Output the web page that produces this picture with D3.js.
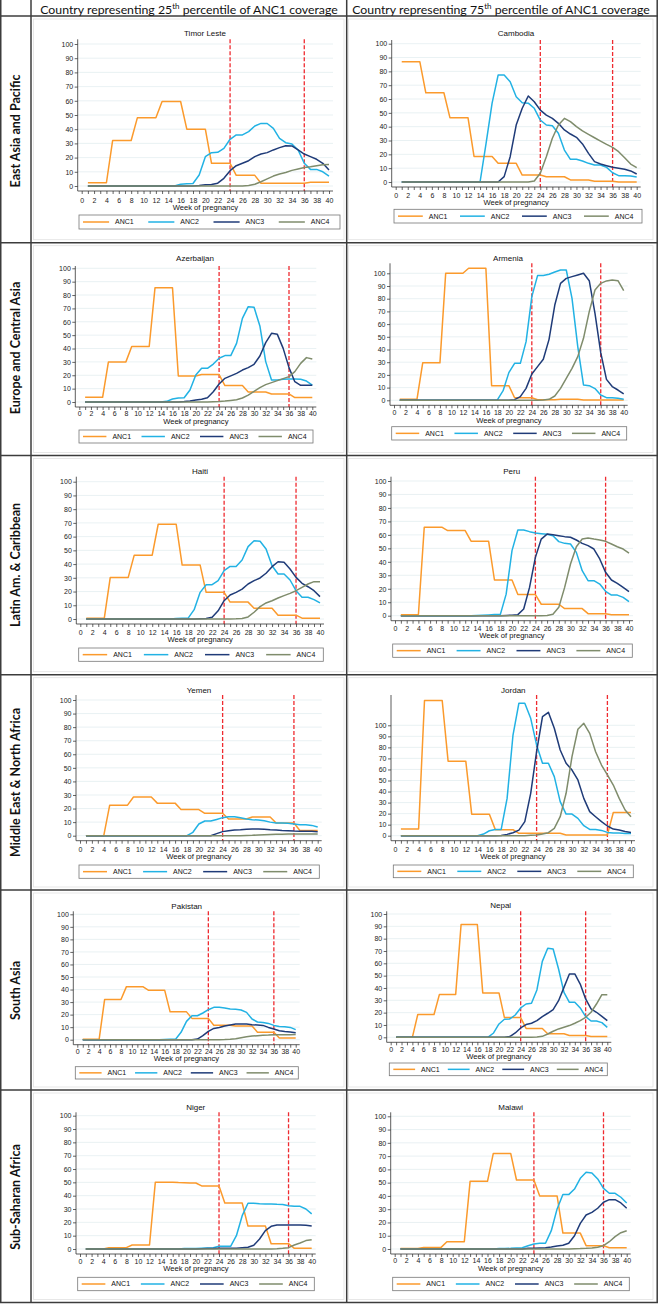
<!DOCTYPE html>
<html><head><meta charset="utf-8">
<script src="https://cdn.jsdelivr.net/npm/d3@7"></script>
<style>body{margin:0;background:#fff}svg{display:block}</style>
</head><body><svg id="c" width="659" height="1304"></svg>
<script>
// ---------------- DATA ----------------
const weeks = d3.range(1, 41);
const xTickValues = d3.range(0, 41);
const yTicks = [0, 10, 20, 30, 40, 50, 60, 70, 80, 90, 100];
const seriesNames = ["ANC1", "ANC2", "ANC3", "ANC4"];
const refWeeks = [24, 36];
const regions = ["East Asia and Pacific", "Europe and Central Asia", "Latin Am. & Caribbean", "Middle East & North Africa", "South Asia", "Sub-Saharan Africa"];
const headerPercentiles = ["25", "75"];
const countries = ["Timor Leste", "Cambodia", "Azerbaijan", "Armenia", "Haiti", "Peru", "Yemen", "Jordan", "Pakistan", "Nepal", "Niger", "Malawi"];

const anc1 = [
 [2.3,2.3,2.3,2.3,32,32,32,32,48,48,48,48,59.5,59.5,59.5,59.5,40,40,40,40,16,16,16,16,7.5,7.5,7.5,7.5,2,2,2,2,2,2,2,2,2.7,2.7,2.7,2.7],
 [87,87,87,87,64.5,64.5,64.5,64.5,46.5,46.5,46.5,46.5,18.5,18.5,18.5,18.5,13.5,13.5,13.5,13.5,5,5,5,5,3.8,3.8,3.8,3.8,1.5,1.5,1.5,1.5,0.5,0.5,0.5,0.5,0,0,0,0],
 [3.5,3.5,3.5,3.5,30,30,30,30,41.5,41.5,41.5,41.5,85.5,85.5,85.5,85.5,19.5,19.5,19.5,19.5,20.5,20.5,20.5,20.5,12.3,12.3,12.3,12.3,7.5,7.5,7.5,7.5,6,6,6,6,3.3,3.3,3.3,3.3],
 [0.8,0.8,0.8,0.8,29.5,29.5,29.5,29.5,100,100,100,100,104,104,104,104,11.5,11.5,11.5,11.5,2,2,2,2,0.5,0.5,0.5,0.5,0.8,0.8,0.8,0.8,0.3,0.3,0.3,0.3,0.3,0.3,0.3,0.3],
 [0.5,0.5,0.5,0.5,30.3,30.3,30.3,30.3,46.5,46.5,46.5,46.5,69,69,69,69,39.3,39.3,39.3,39.3,19.4,19.4,19.4,19.4,12.3,12.3,12.3,12.3,7.8,7.8,7.8,7.8,2.8,2.8,2.8,2.8,0.6,0.6,0.6,0.6],
 [0.7,0.7,0.7,0.7,65.7,65.7,65.7,65.7,63.2,63.2,63.2,63.2,55.3,55.3,55.3,55.3,26.5,26.5,26.5,26.5,15.7,15.7,15.7,15.7,8.5,8.5,8.5,8.5,5.3,5.3,5.3,5.3,1.5,1.5,1.5,1.5,0.7,0.7,0.7,0.7],
 [0,0,0,0,22.5,22.5,22.5,22.5,28.5,28.5,28.5,28.5,24,24,24,24,19.3,19.3,19.3,19.3,16.5,16.5,16.5,16.5,12.3,12.3,12.3,12.3,13.8,13.8,13.8,13.8,9.3,9.3,9.3,9.3,3.8,3.8,3.8,3.8],
 [6,6,6,6,122.5,122.5,122.5,122.5,67.5,67.5,67.5,67.5,19.5,19.5,19.5,19.5,5.5,5.5,5.5,5.5,2.2,2.2,2.2,2.2,2.2,2.2,2.2,2.2,0.7,0.7,0.7,0.7,0.7,0.7,0.7,0.7,21,21,21,21],
 [0.3,0.3,0.3,0.3,32,32,32,32,42.3,42.3,42.3,42.3,39.5,39.5,39.5,39.5,22.2,22.2,22.2,22.2,17,17,17,17,11.5,11.5,11.5,11.5,11,11,11,11,6,6,6,6,1.3,1.3,1.3,1.3],
 [0,0,0,0,18.5,18.5,18.5,18.5,34.8,34.8,34.8,34.8,91.5,91.5,91.5,91.5,36,36,36,36,16,16,16,16,7.2,7.2,7.2,7.2,2.9,2.9,2.9,2.9,1.5,1.5,1.5,1.5,0.7,0.7,0.7,0.7],
 [0,0,0,0,1,1,1,1,3,3,3,3,50,50,50,50,49.8,49.7,49.6,49.5,47.3,47.3,47.3,47.3,34.5,34.5,34.5,34.5,17.2,17.2,17.2,17.2,4,4,4,4,0.5,0.5,0.5,0.5],
 [0.3,0.3,0.3,0.3,1.2,1.2,1.2,1.2,5.5,5.5,5.5,5.5,51,51,51,51,72,72,72,72,52,52,52,52,40,40,40,40,12,12,12,12,2.5,2.5,2.5,2.5,1,1,1,1]
];
const anc2 = [
 [0,0,0,0,0,0,0,0,0,0,0,0,0,0,0,1.2,1.5,1.8,7.7,20.6,23.5,23.7,26.5,32.9,36,36,38.3,42.3,44.1,44,40.6,33.6,30.5,29.6,25.4,16,11.7,11.7,10,7],
 [0,0,0,0,0,0,0,0,0,0,0,0,0,0,28,57,77.3,77.3,72.5,61.7,57.3,57,53.3,44.8,41.2,40.7,35.2,23.1,16.4,16.4,15.2,13.5,12.3,12.3,10.6,6.7,4.6,4.6,4.3,3.6],
 [0,0,0,0,0,0,0,0,0,0,0,0,0,0,0.5,2.2,3,3.2,9,20.2,25.2,25.2,28.4,32.7,34.7,34.7,43.9,62.6,71.3,70.8,56.9,30.2,16.5,16.5,17,17.2,17.2,17,15.7,12.7],
 [0,0,0,0,0,0,0,0,0,0,0,0,0,0,0,0,0,0.3,7.6,21.8,29.1,29.1,46.2,81.6,98.2,98.2,99.2,101,102.6,102.6,80.3,42.3,12.1,11.5,9.2,4.2,2.1,2.1,1.6,0.8],
 [0,0,0,0,0,0,0,0,0,0,0,0,0,0,0,0.3,0.5,0.6,6.8,19.4,25,25,27.9,35.2,38.3,38.3,43,52.7,57,56.6,51,38.8,32.8,32.8,28.4,20.6,15.8,15.8,14.1,11.7],
 [0,0,0,0,0,0,0,0,0,0,0,0,0,0.2,0.4,0.6,0.8,0.8,16,48.3,63.6,63.6,62.4,61.4,60.9,60.4,59.4,55,53.7,53.2,47,33.4,26,26,23.5,18.1,15.3,15.3,13.6,10.4],
 [0,0,0,0,0,0,0,0,0,0,0,0,0,0,0,0,0,0,2.5,8.6,10.8,10.8,12,13.3,14,14,13.3,12.3,11.8,11.5,11,10,9.3,9.3,9.1,8.6,8.1,8.1,7.6,6.4],
 [0,0,0,0,0,0,0,0,0,0,0,0,0,0,1.5,4.5,5.7,5.7,33.8,91.2,120,120,106.3,82.2,65.6,65.6,53.5,30.8,19.6,19.6,15.7,9.1,5.7,5.7,4.8,3,2.4,2.4,2.1,2.1],
 [0,0,0,0,0,0,0,0,0,0,0,0,0,0,0,0.2,0.3,0.3,5.9,14.6,19.1,19.1,21.3,23.9,25.8,25.8,25.3,24.5,24.2,23.7,21.8,16.5,14.1,13.8,13,11.4,10.6,10.4,9.8,8],
 [0,0,0,0,0,0,0,0,0,0,0,0,0,0,0,0,0,0.2,3.5,10.8,14.6,14.9,18.1,23.8,27,27.6,38.4,61.6,72.2,71.6,55.4,36.5,28.4,28.4,23.8,16.8,13.2,13.2,11.9,8.1],
 [0,0,0,0,0,0,0,0,0,0,0,0,0,0,0,0,0,0.3,0.3,0.4,0.6,0.8,1,2,2,2,10,25,34.3,34.3,34,33.8,33.8,33.5,33.3,32.5,32,32,30,26.3],
 [0,0,0,0,0,0,0,0,0,0,0,0,0,0,0,0,0,0.3,0.4,0.5,0.8,1,2.5,3.8,4.3,4.3,13.8,30.2,41,41,45.2,53.3,57.8,57.3,52.8,45.7,42,42,39,34.7]
];
const anc3 = [
 [0,0,0,0,0,0,0,0,0,0,0,0,0,0,0,0,0,0,0.3,0.8,1,2,5.4,10.8,14.3,16,17.8,20.7,22.5,23.5,25.4,27,28.4,28.2,25.4,22.5,20.7,18.8,16,11.3],
 [0,0,0,0,0,0,0,0,0,0,0,0,0,0,0,0,0,3.9,18.3,41.2,53.3,62.2,58,52,48.4,46,42.4,37.6,34.7,32.3,27.5,20.7,14.7,13,11.8,10.6,9.9,9.2,8,5.8],
 [0,0,0,0,0,0,0,0,0,0,0,0,0,0,0,0,0,0.3,0.8,1.5,2,3.2,7.7,13.5,17.7,19.5,21.4,23.9,25.7,28.2,34.4,44.4,51.4,50.6,40.1,25.7,15.2,12.5,12.5,12.5],
 [0,0,0,0,0,0,0,0,0,0,0,0,0,0,0,0,0,0,0,0,0.5,2.9,9.4,20.7,26.5,32.3,48,75,92.1,96,97.4,98.7,100,94.2,68.5,37.5,16.5,10.8,8.1,5],
 [0,0,0,0,0,0,0,0,0,0,0,0,0,0,0,0,0,0,0,0.2,0.3,1.2,6,13.3,17.5,19.4,21.8,25.5,27.9,29.9,33.3,38.1,41.7,41.3,36.4,30.3,26,23.5,20.6,16.3],
 [0,0,0,0,0,0,0,0,0,0,0,0,0,0,0,0,0,0,0.2,0.4,0.8,5,21,43.3,56.9,60.6,60.1,59.4,58.7,58.2,56.2,53.7,52,49.5,42.1,32.2,26.5,24,21,17.8],
 [0,0,0,0,0,0,0,0,0,0,0,0,0,0,0,0,0,0,0,0,0,0,1.5,3,3.7,4.2,4.4,4.7,4.9,4.9,4.7,4.4,4.2,3.9,3.7,3.4,3.2,3.2,3.2,3],
 [0,0,0,0,0,0,0,0,0,0,0,0,0,0,0,0,0,0.2,1.2,2.7,5.1,12.7,38.4,76.1,107.9,111.8,97.3,77.6,65.6,59.5,50.5,33.8,21.8,17.2,12.7,8.8,6,5.1,3.9,3],
 [0,0,0,0,0,0,0,0,0,0,0,0,0,0,0,0,0,0,0,0,0,0.5,3.2,6.6,9,9.8,10.9,11.7,12.5,12.5,12.5,12,11.7,11.4,9.8,8.5,7.2,6.6,6.1,5.6],
 [0,0,0,0,0,0,0,0,0,0,0,0,0,0,0,0,0,0,0,0,0,0.6,3.5,7.6,10.3,11.4,13.5,16.8,19.5,22.4,29.7,40.5,51.4,51.4,43.2,31.1,23,20.3,17,13.5],
 [0,0,0,0,0,0,0,0,0,0,0,0,0,0,0,0,0,0,0,0,0.2,0.3,0.4,0.5,0.5,0.5,0.5,1,1.3,2.8,7.5,13.8,17,18,18,18,18,18,17.8,17.3],
 [0,0,0,0,0,0,0,0,0,0,0,0,0,0,0,0,0,0,0,0,0,0,0.5,0.6,0.8,1,1.5,2.3,2.8,4.3,10,19.3,25.6,27.6,30.7,35.2,37.2,37.2,34.7,30.7]
];
const anc4 = [
 [0,0,0,0,0,0,0,0,0,0,0,0,0,0,0,0,0,0,0,0,0,0,0,0,0,0,0.3,1.2,3,5,7,8.5,9.5,11,12,13,13.5,14.3,15,15.2],
 [0,0,0,0,0,0,0,0,0,0,0,0,0,0,0,0,0,0,0,0,0,0,0.7,6.3,18.3,31.6,41.2,46,43.6,40,36.9,34.5,32,29.6,27.2,25,21.9,17.6,13,10.4],
 [0,0,0,0,0,0,0,0,0,0,0,0,0,0,0,0,0,0,0,0,0,0,0.2,0.4,0.7,1.2,1.7,3,5.2,8,10.7,13,14.5,16,17.5,19,22.7,28.9,33.2,32.2],
 [0,0,0,0,0,0,0,0,0,0,0,0,0,0,0,0,0,0,0,0,0,0,0,0,0,0.3,0.8,3.4,9.4,17.3,25.2,34.4,48.8,69.8,86.9,92.1,94,94.8,94.2,86.4],
 [0,0,0,0,0,0,0,0,0,0,0,0,0,0,0,0,0,0,0,0,0,0,0,0,0,0.1,0.4,1.5,4.9,9,11.7,13.3,15.3,17,18.7,20.6,23,25.5,27.2,27.2],
 [0,0,0,0,0,0,0,0,0,0,0,0,0,0,0,0,0,0,0,0,0,0,0,0,0,0.2,1,6.2,21,38.4,51.2,56.9,57.7,56.9,56.2,55.2,53.2,51.2,49.5,46.5],
 [0,0,0,0,0,0,0,0,0,0,0,0,0,0,0,0,0,0,0,0,0,0,0,0,0,0,0,0.2,0.3,0.5,0.7,0.9,1,1.1,1.2,1.2,1.2,1.2,1.2,1.2],
 [0,0,0,0,0,0,0,0,0,0,0,0,0,0,0,0,0,0,0,0,0,0,0.3,0.6,1.5,2.7,6.6,17.2,38.4,71.6,96.4,101.8,92.7,76.1,64,55,45.9,33.8,23.3,17.2],
 [0,0,0,0,0,0,0,0,0,0,0,0,0,0,0,0,0,0,0,0,0,0,0,0,0,0,0.1,0.3,0.8,1.6,2.4,2.9,3.2,3.5,3.7,4,4,4,4,4.2],
 [0,0,0,0,0,0,0,0,0,0,0,0,0,0,0,0,0,0,0,0,0,0,0,0,0,0,0.2,0.8,2.7,4.9,6.8,8.1,9.5,11.4,13.5,16.2,20.3,27,34.6,34.6],
 [0,0,0,0,0,0,0,0,0,0,0,0,0,0,0,0,0,0,0,0,0,0,0,0,0,0,0,0,0,0,0,0,0,0.2,0.5,1,3,4.5,6.3,7],
 [0,0,0,0,0,0,0,0,0,0,0,0,0,0,0,0,0,0,0,0,0,0,0,0,0,0,0,0,0,0,0.2,0.3,0.5,0.8,1.3,2.5,5.5,9.3,12.3,13.8]
];

// ---------------- LAYOUT / STYLE ----------------
const seriesColors = ["#fb9a2c", "#22b2e4", "#1f3b78", "#7f8c6c"];
const panelLayout = [
 {x0:81.7,x40:329,y0:186,y100:44,top:39.3,tx:205,ty:33,tl:201,at:207.3,lg:[79,340,215,229]},
 {x0:395.7,x40:636.7,y0:182,y100:43.7,top:40,tx:516,ty:33,tl:195.7,at:202,lg:[394,642,209.3,223]},
 {x0:79.3,x40:312.3,y0:402,y100:268.3,top:266,tx:195,ty:258,tl:413.3,at:421.7,lg:[79,313,430,443]},
 {x0:394,x40:623.7,y0:400.3,y100:273.3,top:263.3,tx:508,ty:257.7,tl:412.7,at:420,lg:[391.7,626.7,426.7,440]},
 {x0:80.3,x40:320,y0:619,y100:481.7,top:476.7,tx:200,ty:471.3,tl:633,at:639.7,lg:[78.7,323.3,648,661.3]},
 {x0:395,x40:629,y0:615.7,y100:481,top:476.7,tx:511.7,ty:470.7,tl:628.3,at:635.7,lg:[392.7,632.3,644,657.3]},
 {x0:80,x40:317.7,y0:835.7,y100:700,top:695,tx:199,ty:690,tl:849.3,at:856,lg:[79,319.3,865,878.3]},
 {x0:395,x40:631,y0:835.7,y100:725.3,top:695,tx:513.3,ty:690,tl:849.3,at:856,lg:[393.3,633.3,865,877.7]},
 {x0:77.3,x40:295.7,y0:1039.7,y100:914.3,top:911.3,tx:186.7,ty:905.7,tl:1051.7,at:1058,lg:[75.3,298.3,1066.7,1079]},
 {x0:390.7,x40:607.3,y0:1037.3,y100:914,top:911.3,tx:500.7,ty:905,tl:1049.3,at:1056,lg:[389.3,607.3,1063,1075.7]},
 {x0:80,x40:311.7,y0:1249,y100:1115.7,top:1112.3,tx:195.7,ty:1106.7,tl:1261.7,at:1268.3,lg:[77.7,314.3,1277.3,1290.7]},
 {x0:394.7,x40:626.7,y0:1249,y100:1116.3,top:1112.3,tx:510.7,ty:1106.7,tl:1260.7,at:1268,lg:[392.7,629.3,1277.3,1290.7]}
];
const rowLines = [16, 242.7, 455.5, 674.7, 890, 1090, 1302.5];
const colLines = [0.75, 31, 346.7, 657.2];
const rowLabelY = [131, 348, 565, 782.5, 990.5, 1197];
const rowLabelLen = [112, 133, 124, 149, 59, 106];
const headerX = [189, 501];
const headerLen = 298;
const FONT = "'Liberation Sans', Arial, Helvetica, sans-serif";
const HFONT = "Lato, 'Open Sans', sans-serif";

const svg = d3.select("#c");
svg.append("rect").attr("width", 659).attr("height", 1304).attr("fill", "#fff");

// faint graph borders
rowLines.slice(0, 6).forEach((top, r) => {
  const bottom = rowLines[r + 1];
  [[33.5, 344], [348.5, 653]].forEach(([a, b]) => {
    svg.append("rect").attr("x", a).attr("y", top + 3).attr("width", b - a).attr("height", bottom - top - 6)
      .attr("fill", "none").attr("stroke", "#e2e2e2").attr("stroke-width", 0.8);
  });
});

// ---------------- PANELS ----------------
countries.forEach((name, i) => {
  const L = panelLayout[i];
  const g = svg.append("g");
  const x = d3.scaleLinear().domain([0, 40]).range([L.x0, L.x40]);
  const y = d3.scaleLinear().domain([0, 100]).range([L.y0, L.y100]);
  const axY = L.y0 + 5, axX = L.x0 - 4, right = L.x40 + 4;

  g.selectAll("line.grid").data(yTicks).join("line").attr("class", "grid")
    .attr("x1", axX).attr("x2", right).attr("y1", d => y(d)).attr("y2", d => y(d))
    .attr("stroke", "#e3edf0").attr("stroke-width", 0.8);

  g.selectAll("line.ref").data(refWeeks).join("line").attr("class", "ref")
    .attr("x1", d => x(d)).attr("x2", d => x(d)).attr("y1", L.top).attr("y2", axY)
    .attr("stroke", "#ef2b30").attr("stroke-width", 1.3).attr("stroke-dasharray", "4,2");

  const line = d3.line().x((d, j) => x(weeks[j])).y(d => y(d));
  [anc1, anc2, anc3, anc4].forEach((arr, k) => {
    g.append("path").datum(arr[i]).attr("d", line).attr("fill", "none")
      .attr("stroke", seriesColors[k]).attr("stroke-width", 1.5).attr("stroke-linejoin", "round");
  });

  // axes
  const ya = g.append("g").attr("transform", `translate(${axX},0)`)
    .call(d3.axisLeft(y).tickValues(yTicks).tickSize(3).tickPadding(1.5));
  ya.select(".domain").remove();
  ya.attr("font-family", FONT).attr("font-size", 7).attr("color", "#222");
  ya.selectAll("line").attr("stroke-width", 0.7);

  const xa = g.append("g").attr("transform", `translate(0,${axY})`)
    .call(d3.axisBottom(x).tickValues(xTickValues).tickSize(3).tickFormat(d => d % 2 ? "" : d));
  xa.select(".domain").remove();
  xa.attr("font-family", FONT).attr("font-size", 7).attr("color", "#222");
  xa.selectAll("line").attr("stroke-width", 0.7);
  xa.selectAll("text").attr("y", L.tl - axY).attr("dy", "0.35em");

  g.append("line").attr("x1", axX).attr("x2", axX).attr("y1", L.top).attr("y2", axY)
    .attr("stroke", "#333").attr("stroke-width", 0.8);
  g.append("line").attr("x1", axX).attr("x2", right).attr("y1", axY).attr("y2", axY)
    .attr("stroke", "#333").attr("stroke-width", 0.8);

  g.append("text").attr("x", L.tx).attr("y", L.ty).attr("dy", "0.35em").attr("text-anchor", "middle")
    .attr("font-family", FONT).attr("font-size", 8).attr("fill", "#111").text(name);
  g.append("text").attr("x", (L.x0 + L.x40) / 2).attr("y", L.at).attr("dy", "0.35em").attr("text-anchor", "middle")
    .attr("font-family", FONT).attr("font-size", 7.6).attr("fill", "#111").text("Week of pregnancy");

  // legend
  const [lx1, lx2, ly1, ly2] = L.lg;
  const lw = lx2 - lx1, slot = lw / 4, cy = (ly1 + ly2) / 2;
  g.append("rect").attr("x", lx1).attr("y", ly1).attr("width", lw).attr("height", ly2 - ly1)
    .attr("fill", "#fff").attr("stroke", "#777").attr("stroke-width", 0.8);
  seriesNames.forEach((s, k) => {
    const sx = lx1 + k * slot + 4;
    const ex = sx + slot * 0.4;
    g.append("line").attr("x1", sx).attr("x2", ex).attr("y1", cy).attr("y2", cy)
      .attr("stroke", seriesColors[k]).attr("stroke-width", 1.5);
    g.append("text").attr("x", ex + 6).attr("y", cy).attr("dy", "0.35em")
      .attr("font-family", FONT).attr("font-size", 7).attr("fill", "#111").text(s);
  });
});

// ---------------- TABLE ----------------
rowLines.forEach(yv => svg.append("line").attr("x1", 0).attr("x2", 658).attr("y1", yv).attr("y2", yv)
  .attr("stroke", "#3c3c3c").attr("stroke-width", 1.5));
colLines.forEach(xv => svg.append("line").attr("x1", xv).attr("x2", xv).attr("y1", 0).attr("y2", 1303)
  .attr("stroke", "#3c3c3c").attr("stroke-width", 1.5));

headerPercentiles.forEach((p, c) => {
  const t = svg.append("text").attr("x", headerX[c]).attr("y", 13.5).attr("text-anchor", "middle")
    .attr("font-family", HFONT).attr("font-size", 13).attr("fill", "#111");
  t.append("tspan").text("Country representing " + p);
  t.append("tspan").attr("font-size", "0.65em").attr("dy", -5).text("th");
  t.append("tspan").attr("dy", 5).text(" percentile of ANC1 coverage");
  const w = t.node().getComputedTextLength();
  t.attr("font-size", 13 * headerLen / w);
});

const rl = regions.map((r, k) => svg.append("text")
  .attr("transform", `translate(16,${rowLabelY[k]}) rotate(-90)`)
  .attr("text-anchor", "middle").attr("dy", "0.35em")
  .attr("font-family", HFONT).attr("font-weight", "bold").attr("font-size", 13).attr("fill", "#111").text(r));
const ratios = rl.map((t, k) => rowLabelLen[k] / t.node().getComputedTextLength());
const rs = d3.median(ratios) * 13;
rl.forEach(t => t.attr("font-size", rs));
</script>
</body></html>
